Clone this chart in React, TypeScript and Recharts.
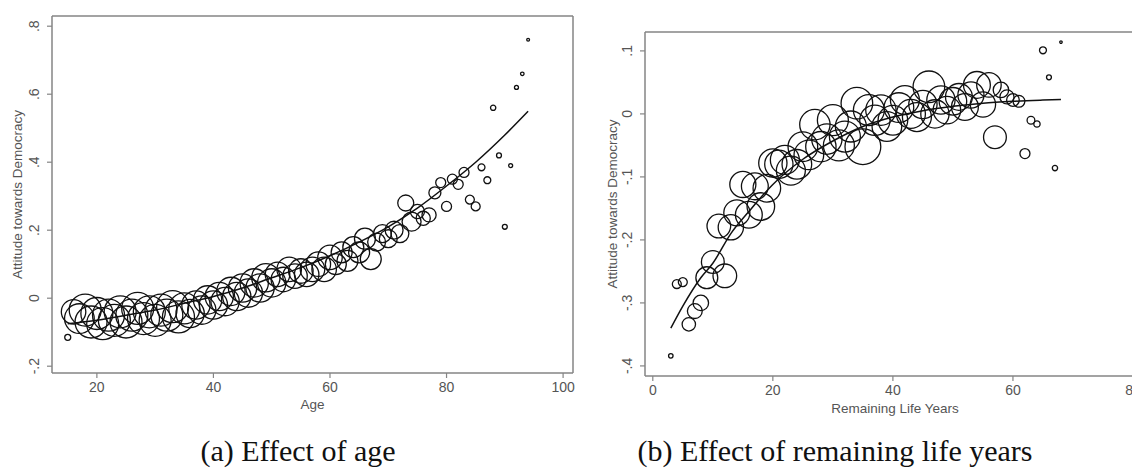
import React from 'react';
import { ComposedChart, Scatter, Line, XAxis, YAxis, ZAxis, ReferenceLine } from 'recharts';

// (a) attitude by age, bubble weight = cell size
const AGES = [
  15, 16, 17, 18, 19, 20, 21, 22, 23, 24, 25, 26, 27, 28, 29, 30, 31, 32, 33, 34,
  35, 36, 37, 38, 39, 40, 41, 42, 43, 44, 45, 46, 47, 48, 49, 50, 51, 52, 53, 54,
  55, 56, 57, 58, 59, 60, 61, 62, 63, 64, 65, 66, 67, 68, 69, 70, 71, 72, 73, 74,
  75, 76, 77, 78, 79, 80, 81, 82, 83, 84, 85, 86, 87, 88, 89, 90, 91, 92, 93, 94,
];
const AGE_ATTITUDE = [
  -0.115, -0.04, -0.06, -0.035, -0.07, -0.045, -0.075, -0.05, -0.065, -0.04,
  -0.07, -0.05, -0.03, -0.06, -0.04, -0.065, -0.035, -0.05, -0.025, -0.055,
  -0.03, -0.045, -0.02, -0.035, -0.005, -0.02, 0.005, -0.01, 0.02, 0.005,
  0.03, 0.015, 0.045, 0.03, 0.06, 0.045, 0.07, 0.055, 0.085, 0.065,
  0.08, 0.07, 0.085, 0.1, 0.085, 0.12, 0.1, 0.135, 0.11, 0.15,
  0.135, 0.175, 0.115, 0.165, 0.19, 0.175, 0.2, 0.19, 0.28, 0.225,
  0.255, 0.235, 0.245, 0.31, 0.34, 0.27, 0.35, 0.335, 0.37, 0.29,
  0.27, 0.385, 0.347, 0.56, 0.42, 0.21, 0.39, 0.62, 0.66, 0.76,
];
const AGE_WEIGHT = [
  9, 150, 220, 256, 256, 256, 256, 256, 256, 256, 256, 256, 256, 256, 256, 256, 256, 256, 256, 256,
  240, 200, 200, 200, 200, 200, 200, 200, 200, 200, 200, 200, 200, 200, 200, 200, 150, 150, 150, 150,
  150, 150, 150, 150, 150, 150, 110, 110, 110, 110, 110, 110, 110, 80, 80, 80, 80, 80, 64, 90,
  50, 50, 50, 36, 25, 25, 25, 25, 25, 20, 20, 12, 12, 7, 6, 6, 4, 4, 3, 2,
];
const AGE_FIT_X = [15, 20, 25, 30, 35, 40, 45, 50, 55, 60, 65, 70, 75, 80, 85, 90, 94];
const AGE_FIT_Y = [
  -0.075, -0.065, -0.05, -0.035, -0.015, 0.005, 0.03, 0.06, 0.09, 0.125,
  0.165, 0.21, 0.265, 0.33, 0.4, 0.48, 0.55,
];
const AGE_TICKS_X = [20, 40, 60, 80, 100];
const AGE_TICKS_Y = [-0.2, 0, 0.2, 0.4, 0.6, 0.8];

// (b) attitude by remaining life years
const LIFE_YEARS = [
  3, 4, 5, 6, 7, 8, 9, 10, 11, 12, 13, 14, 15, 16, 17, 18, 19, 20, 21, 22,
  23, 24, 25, 26, 27, 28, 29, 30, 31, 32, 33, 34, 35, 36, 37, 38, 39, 40, 41, 42,
  43, 44, 45, 46, 47, 48, 49, 50, 51, 52, 53, 54, 55, 56, 57, 58, 59, 60, 61, 62,
  63, 64, 65, 66, 67, 68,
];
const LIFE_ATTITUDE = [
  -0.384, -0.27, -0.267, -0.334, -0.313, -0.3, -0.26, -0.235, -0.178, -0.257,
  -0.18, -0.157, -0.112, -0.16, -0.115, -0.147, -0.118, -0.078, -0.08, -0.073,
  -0.09, -0.08, -0.052, -0.065, -0.017, -0.052, -0.04, -0.01, -0.05, -0.036,
  -0.02, 0.017, -0.052, 0.006, -0.01, 0.006, -0.02, -0.01, 0.01, 0.022,
  0.0, -0.005, 0.015, 0.043, 0.0, 0.022, 0.006, 0.02, 0.027, 0.011,
  0.03, 0.046, 0.015, 0.046, -0.037, 0.038, 0.027, 0.022, 0.02, -0.063,
  -0.01, -0.016, 0.101, 0.058, -0.086, 0.114,
];
const LIFE_WEIGHT = [
  5, 20, 20, 45, 55, 60, 120, 130, 140, 140, 160, 170, 170, 180, 180, 190, 190, 200, 200, 210,
  210, 220, 220, 220, 230, 230, 230, 240, 240, 240, 240, 250, 320, 240, 230, 230, 220, 220, 220, 210,
  210, 210, 200, 250, 200, 200, 190, 190, 180, 180, 170, 180, 160, 150, 130, 60, 50, 40, 35, 25,
  15, 10, 12, 6, 7, 1.5,
];
const LIFE_FIT_X = [3, 5, 8, 10, 13, 16, 20, 25, 30, 35, 40, 45, 50, 55, 60, 65, 68];
const LIFE_FIT_Y = [
  -0.34, -0.305, -0.26, -0.237, -0.19, -0.155, -0.112, -0.072, -0.043, -0.02,
  -0.005, 0.005, 0.012, 0.017, 0.02, 0.022, 0.023,
];
const LIFE_TICKS_X = [0, 20, 40, 60, 80];
const LIFE_TICKS_Y = [-0.4, -0.3, -0.2, -0.1, 0, 0.1];

const SANS = '"Liberation Sans", Arial, sans-serif';
const SERIF = '"Liberation Serif", "Times New Roman", serif';
const AXIS = '#858585';
const TEXT = '#555';
const INK = '#111';

// stata style labels: .8, -.2
const stata = (v: number) => (v === 0 ? '0' : String(v).replace('0.', '.'));

const RotatedTick = (props: any) => {
  const { x, y, payload } = props;
  return (
    <text
      x={x}
      y={y}
      dy={-6}
      transform={`rotate(-90 ${x} ${y})`}
      textAnchor="middle"
      fill={TEXT}
      fontSize={14}
      fontFamily={SANS}
    >
      {stata(payload.value)}
    </text>
  );
};

const zip = (xs: number[], ys: number[], ns?: number[]) =>
  xs.map((x, i) => ({ x, y: ys[i], n: ns ? ns[i] : 1 }));

const axisLine = { stroke: AXIS, strokeWidth: 1.5 };
const tickStyle = { fill: TEXT, fontSize: 14, fontFamily: SANS };

interface PanelProps {
  width: number;
  height: number;
  margin: { top: number; right: number; bottom: number; left: number };
  yAxisWidth: number;
  xDomain: [number, number];
  yDomain: [number, number];
  xTicks: number[];
  yTicks: number[];
  xLabel: string;
  xLabelOffset: number;
  yLabelOffset: number;
  points: { x: number; y: number; n: number }[];
  fit: { x: number; y: number; n: number }[];
}

const Panel = (p: PanelProps) => (
  <ComposedChart width={p.width} height={p.height} margin={p.margin}>
    <XAxis
      type="number"
      dataKey="x"
      domain={p.xDomain}
      allowDataOverflow
      ticks={p.xTicks}
      tickSize={5}
      tickMargin={4}
      axisLine={axisLine}
      tickLine={{ stroke: AXIS, strokeWidth: 1.2 }}
      tick={tickStyle}
      height={42}
      label={{
        value: p.xLabel,
        position: 'insideBottom',
        offset: p.xLabelOffset,
        fill: TEXT,
        fontSize: 13.5,
        fontFamily: SANS,
      }}
    />
    <YAxis
      type="number"
      dataKey="y"
      domain={p.yDomain}
      allowDataOverflow
      ticks={p.yTicks}
      tickSize={5}
      tickMargin={2}
      axisLine={axisLine}
      tickLine={{ stroke: AXIS, strokeWidth: 1.2 }}
      tick={<RotatedTick />}
      width={p.yAxisWidth}
      label={{
        value: 'Attitude towards Democracy',
        angle: -90,
        position: 'insideLeft',
        offset: p.yLabelOffset,
        fill: TEXT,
        fontSize: 13.5,
        fontFamily: SANS,
        style: { textAnchor: 'middle' },
      }}
    />
    <ZAxis type="number" dataKey="n" domain={[0, 320]} range={[0, 320 * Math.PI]} />
    <ReferenceLine y={p.yDomain[1]} stroke={AXIS} strokeWidth={1.5} />
    <ReferenceLine x={p.xDomain[1]} stroke={AXIS} strokeWidth={1.5} />
    <Scatter
      data={p.points}
      fill="none"
      stroke={INK}
      strokeWidth={1.3}
      isAnimationActive={false}
    />
    <Line
      data={p.fit}
      dataKey="y"
      type="monotone"
      stroke={INK}
      strokeWidth={1.5}
      dot={false}
      activeDot={false}
      isAnimationActive={false}
    />
  </ComposedChart>
);

const captionStyle: React.CSSProperties = {
  position: 'absolute',
  top: 436,
  fontFamily: SERIF,
  fontSize: 30,
  lineHeight: '30px',
  color: '#111',
  textAlign: 'center',
  whiteSpace: 'nowrap',
};

export default function App() {
  return (
    <div
      style={{
        position: 'fixed',
        left: 0,
        top: 0,
        width: 1132,
        height: 470,
        overflow: 'hidden',
        background: '#fff',
      }}
    >
      <div style={{ position: 'absolute', left: 0, top: 0 }}>
        <Panel
          width={590}
          height={415}
          margin={{ top: 16, right: 17, bottom: 0, left: 0 }}
          yAxisWidth={52}
          xDomain={[12.3, 101.7]}
          yDomain={[-0.22, 0.83]}
          xTicks={AGE_TICKS_X}
          yTicks={AGE_TICKS_Y}
          xLabel="Age"
          xLabelOffset={6}
          yLabelOffset={17}
          points={zip(AGES, AGE_ATTITUDE, AGE_WEIGHT)}
          fit={zip(AGE_FIT_X, AGE_FIT_Y)}
        />
      </div>
      <div style={{ position: 'absolute', left: 590, top: 0 }}>
        <Panel
          width={560}
          height={418}
          margin={{ top: 32, right: 5, bottom: 0, left: 0 }}
          yAxisWidth={55}
          xDomain={[-1.3, 82]}
          yDomain={[-0.416, 0.13]}
          xTicks={LIFE_TICKS_X}
          yTicks={LIFE_TICKS_Y}
          xLabel="Remaining Life Years"
          xLabelOffset={5}
          yLabelOffset={22}
          points={zip(LIFE_YEARS, LIFE_ATTITUDE, LIFE_WEIGHT)}
          fit={zip(LIFE_FIT_X, LIFE_FIT_Y)}
        />
      </div>
      <div style={{ ...captionStyle, left: 0, width: 596 }}>(a) Effect of age</div>
      <div style={{ ...captionStyle, left: 535, width: 600 }}>(b) Effect of remaining life years</div>
    </div>
  );
}
